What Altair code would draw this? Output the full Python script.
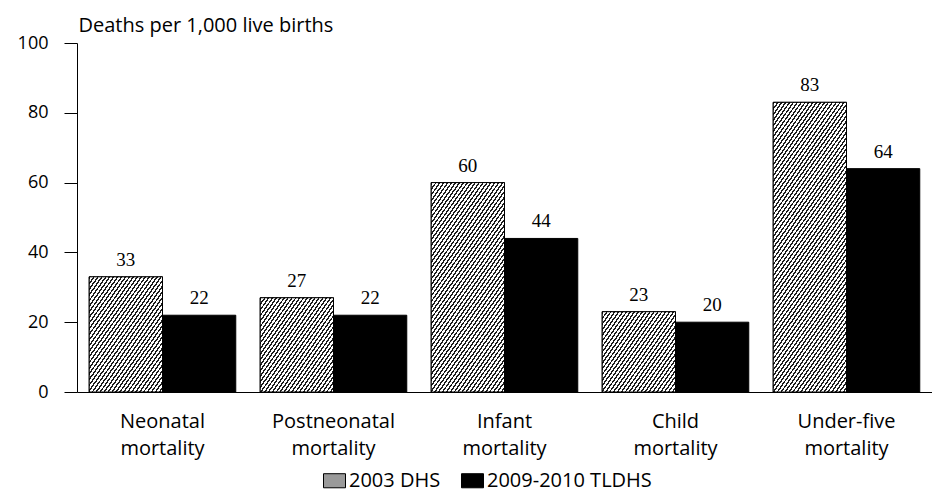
import math
import altair as alt
import pandas as pd

categories = ["Neonatal mortality", "Postneonatal mortality", "Infant mortality",
              "Child mortality", "Under-five mortality"]
surveys = ["2003 DHS", "2009-2010 TLDHS"]
dhs_2003 = [33, 27, 60, 23, 83]
tldhs_2009 = [22, 22, 44, 20, 64]

rows = []
for c, a, b in zip(categories, dhs_2003, tldhs_2009):
    rows.append({"category": c, "survey": surveys[0], "value": a})
    rows.append({"category": c, "survey": surveys[1], "value": b})
df = pd.DataFrame(rows)

FONT = "Open Sans"
FS = 20
W, H = 855, 349
P_IN, P_OUT = 0.143, 0.0715
step = W / (len(categories) - P_IN + 2 * P_OUT)
bar_w = step * (1 - P_IN) / 2


def hatch(value, angle=55, spacing=3.2, dark=0.42):
    """Diagonal hatch as a striped linear gradient, sized to the bar."""
    w = bar_w
    h = value / 100 * H
    a = math.radians(angle)
    nx, ny = math.sin(a), math.cos(a)
    dmax = nx * w + ny * h
    lam = dmax / (nx * nx * w * w + ny * ny * h * h)
    n = max(1, int(round(dmax / spacing)))
    stops = []
    for i in range(n):
        stops.append(alt.GradientStop(color="#1e1e1e", offset=i / n))
        stops.append(alt.GradientStop(color="#1e1e1e", offset=(i + dark) / n))
        stops.append(alt.GradientStop(color="#ffffff", offset=(i + dark) / n))
        stops.append(alt.GradientStop(color="#ffffff", offset=(i + 1) / n))
    return alt.LinearGradient(gradient="linear", stops=stops, x1=0, y1=0,
                              x2=lam * nx * w, y2=lam * ny * h)


base = alt.Chart(df).encode(
    x=alt.X("category:N", sort=categories,
            scale=alt.Scale(paddingInner=P_IN, paddingOuter=P_OUT),
            axis=alt.Axis(title=None, labelAngle=0, ticks=False, domainColor="black",
                          labelExpr="split(datum.label, ' ')", labelFont=FONT,
                          labelFontSize=FS, labelColor="black", labelPadding=19,
                          labelLineHeight=27)),
    xOffset=alt.XOffset("survey:N", sort=surveys,
                        scale=alt.Scale(domain=surveys, paddingInner=0, paddingOuter=0)),
    y=alt.Y("value:Q", scale=alt.Scale(domain=[0, 100]),
            axis=alt.Axis(title="Deaths per 1,000 live births", titleAngle=0,
                          titleAlign="left", titleBaseline="alphabetic", titleX=1,
                          titleY=-12, titleFont=FONT, titleFontSize=FS,
                          titleFontWeight="normal", titleColor="black",
                          values=[0, 20, 40, 60, 80, 100], grid=False,
                          tickSize=13, tickColor="black", domainColor="black",
                          labelFont=FONT, labelFontSize=18, labelColor="black",
                          labelPadding=16)),
)

bars = base.mark_bar(stroke="black", strokeWidth=1).encode(
    color=alt.Color("survey:N", sort=surveys,
                    scale=alt.Scale(domain=surveys, range=["#9a9a9a", "#000000"]),
                    legend=alt.Legend(title=None, orient="none", legendX=246, legendY=426,
                                      direction="horizontal",
                                      symbolType="M-1,-0.64L1,-0.64L1,0.64L-1,0.64Z",
                                      symbolSize=484, symbolStrokeColor="black",
                                      symbolStrokeWidth=1, symbolOpacity=1,
                                      labelFont=FONT, labelFontSize=FS, labelColor="black",
                                      labelLimit=400, columnPadding=18, labelOffset=3))
)

hatch_layers = []
for c, v in zip(categories, dhs_2003):
    hatch_layers.append(
        base.transform_filter((alt.datum.survey == surveys[0]) & (alt.datum.category == c))
        .mark_bar(fill=hatch(v), stroke="black", strokeWidth=1)
    )

labels = base.mark_text(font="Liberation Serif", fontSize=19, baseline="bottom",
                        dy=-7, color="black").encode(text="value:Q")

chart = alt.layer(bars, *hatch_layers, labels).properties(
    width=W, height=H,
    autosize=alt.AutoSizeParams(type="none"),
    padding={"left": 69, "top": 35, "right": 0, "bottom": 108},
).configure_view(stroke=None)

chart.save("out.html", embed_options={"renderer": "svg", "actions": False})
